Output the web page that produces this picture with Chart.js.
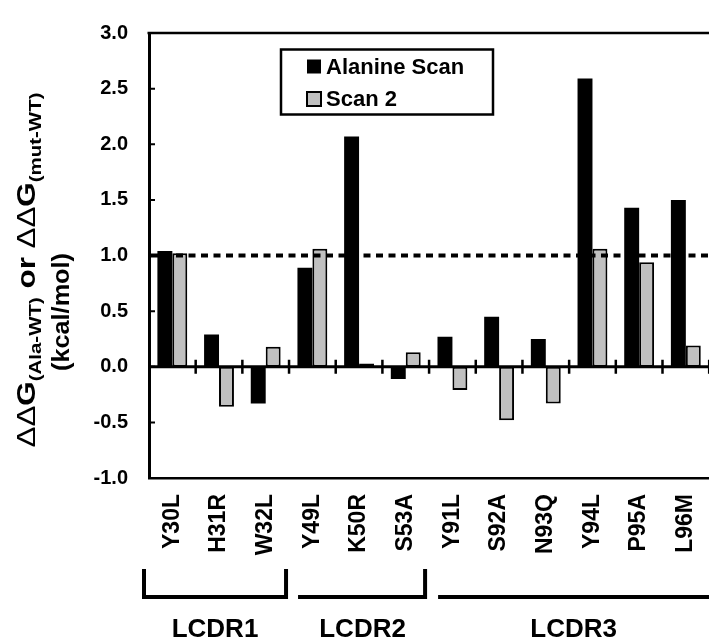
<!DOCTYPE html>
<html><head><meta charset="utf-8">
<script src="https://cdn.jsdelivr.net/npm/chart.js@4/dist/chart.umd.min.js"></script>
<style>html,body{margin:0;padding:0;background:#fff;overflow:hidden;width:709px;height:641px}canvas{display:block}</style>
</head><body>
<canvas id="c" width="730" height="641"></canvas>
<script>
// ---- data ----
const categories = ['Y30L','H31R','W32L','Y49L','K50R','S53A','Y91L','S92A','N93Q','Y94L','P95A','L96M'];
const alanineScan = [1.04, 0.29, -0.33, 0.89, 2.07, -0.11, 0.27, 0.45, 0.25, 2.59, 1.43, 1.50];
const scan2 = [1.02, -0.36, 0.18, 1.06, 0.03, 0.13, -0.21, -0.48, -0.33, 1.06, 0.94, 0.19];
const seriesNames = ['Alanine Scan', 'Scan 2'];
const yTicks = [-1.0, -0.5, 0.0, 0.5, 1.0, 1.5, 2.0, 2.5, 3.0];
const thresholdValue = 1.0;
const groupLabels = ['LCDR1', 'LCDR2', 'LCDR3'];
const groupFirst = [0, 3, 6];
const groupLast = [2, 5, 11];

// ---- styles ----
const FONT = '"Liberation Sans", Arial, Helvetica, sans-serif';
const groupLeftEnd = [true, false, false];
const groupRightEnd = [true, true, false];
const groupInsetL = [-7, 9, 9];
const groupInsetR = [-1, -2, 0];

function drawRich(ctx, segs, baseX, centerY, targetLen) {
  let total = 0;
  const widths = segs.map(s => {
    ctx.font = (s.bold ? 'bold ' : '') + s.size + 'px ' + FONT;
    const w = ctx.measureText(s.t).width; total += w; return w;
  });
  ctx.save();
  ctx.translate(baseX, centerY);
  ctx.rotate(-Math.PI / 2);
  ctx.scale(targetLen / total, 1);
  ctx.fillStyle = '#000';
  ctx.textBaseline = 'alphabetic';
  ctx.textAlign = 'left';
  let pos = -total / 2;
  segs.forEach((s, i) => {
    ctx.font = (s.bold ? 'bold ' : '') + s.size + 'px ' + FONT;
    ctx.fillText(s.t, pos, s.sub ? 6 : 0);
    pos += widths[i];
  });
  ctx.restore();
}

const decor = {
  id: 'decor',
  afterDatasetsDraw(chart) {
    const {ctx, chartArea: a, scales: {x, y}} = chart;
    ctx.save();
    ctx.strokeStyle = '#000';
    // threshold dashed line
    const yt = y.getPixelForValue(thresholdValue);
    ctx.setLineDash([7, 5.5]);
    ctx.lineWidth = 4;
    ctx.beginPath(); ctx.moveTo(a.left + 2, yt); ctx.lineTo(a.right, yt); ctx.stroke();
    ctx.setLineDash([]);
    // zero line
    const y0 = y.getPixelForValue(0);
    ctx.lineWidth = 3;
    ctx.beginPath(); ctx.moveTo(a.left, y0); ctx.lineTo(a.right, y0); ctx.stroke();
    // category boundary ticks crossing zero line
    const w = x.getPixelForValue(1) - x.getPixelForValue(0);
    ctx.lineWidth = 2.5;
    ctx.beginPath();
    for (let i = 1; i <= categories.length; i++) {
      const bx = x.getPixelForValue(i) - w / 2;
      ctx.moveTo(bx, y0 - 7); ctx.lineTo(bx, y0 + 7);
    }
    ctx.stroke();
    // inward y tick marks
    ctx.lineWidth = 2;
    ctx.beginPath();
    yTicks.forEach(v => {
      const py = y.getPixelForValue(v);
      ctx.moveTo(a.left, py); ctx.lineTo(a.left + 6, py);
    });
    ctx.stroke();
    // top frame line
    ctx.lineWidth = 2.5;
    ctx.beginPath(); ctx.moveTo(a.left - 1.5, a.top); ctx.lineTo(a.right, a.top); ctx.stroke();
    ctx.restore();
  },
  afterDraw(chart) {
    const {ctx, chartArea: a, scales: {x}} = chart;
    ctx.save();
    // legend
    const lx = a.left + 132, ly = a.top + 16.5, lw = 212, lh = 65;
    ctx.fillStyle = '#fff';
    ctx.fillRect(lx, ly, lw, lh);
    ctx.lineWidth = 2.5; ctx.strokeStyle = '#000';
    ctx.strokeRect(lx, ly, lw, lh);
    chart.data.datasets.forEach((ds, i) => {
      const sy = ly + 10 + i * 32.5;
      ctx.fillStyle = ds.backgroundColor;
      ctx.fillRect(lx + 26, sy, 14, 14);
      if (ds.borderWidth) { ctx.lineWidth = 2; ctx.strokeStyle = '#000'; ctx.strokeRect(lx + 26, sy, 14, 14); }
      ctx.fillStyle = '#000';
      ctx.font = 'bold 22px ' + FONT;
      ctx.textBaseline = 'middle'; ctx.textAlign = 'left';
      ctx.fillText(ds.label, lx + 45, sy + 8);
    });
    // y axis title
    drawRich(ctx, [
      {t: 'ΔΔ', size: 26, bold: false},
      {t: 'G', size: 26, bold: true},
      {t: '(Ala-WT)', size: 17, bold: true, sub: true},
      {t: ' or ', size: 26, bold: true},
      {t: 'ΔΔ', size: 26, bold: false},
      {t: 'G', size: 26, bold: true},
      {t: '(mut-WT)', size: 17, bold: true, sub: true}
    ], 35, 270, 355);
    drawRich(ctx, [{t: '(kcal/mol)', size: 23, bold: true}], 69, 312, 118);
    // group brackets
    const w = x.getPixelForValue(1) - x.getPixelForValue(0);
    const yTop = a.bottom + 91, yLine = a.bottom + 119;
    ctx.strokeStyle = '#000'; ctx.lineWidth = 4; ctx.lineCap = 'butt';
    groupLabels.forEach((g, i) => {
      const xl = x.getPixelForValue(groupFirst[i]) - w / 2 + groupInsetL[i];
      const xr = x.getPixelForValue(groupLast[i]) + w / 2 + groupInsetR[i];
      ctx.beginPath();
      if (groupLeftEnd[i]) { ctx.moveTo(xl + 2, yTop); ctx.lineTo(xl + 2, yLine); }
      ctx.moveTo(xl, yLine); ctx.lineTo(xr, yLine);
      if (groupRightEnd[i]) { ctx.moveTo(xr - 2, yLine); ctx.lineTo(xr - 2, yTop); }
      ctx.stroke();
      ctx.fillStyle = '#000';
      ctx.font = 'bold 26px ' + FONT;
      ctx.textAlign = 'center'; ctx.textBaseline = 'alphabetic';
      ctx.fillText(g, (xl + xr) / 2, a.bottom + 159);
    });
    ctx.restore();
  }
};

new Chart(document.getElementById('c'), {
  type: 'bar',
  data: {
    labels: categories,
    datasets: [
      {label: seriesNames[0], data: alanineScan, backgroundColor: '#000000', borderWidth: 0,
       categoryPercentage: 0.64, barPercentage: 1.0},
      {label: seriesNames[1], data: scan2, backgroundColor: '#c0c0c0', borderColor: '#000000', borderWidth: 2,
       borderSkipped: false, categoryPercentage: 0.64, barPercentage: 1.0}
    ]
  },
  options: {
    responsive: false,
    animation: false,
    devicePixelRatio: 1,
    layout: {padding: {top: 23, right: 13.5, left: 0, bottom: 0}},
    plugins: {legend: {display: false}, tooltip: {enabled: false}},
    scales: {
      x: {
        position: 'bottom',
        grid: {display: false, drawTicks: false},
        border: {display: true, color: '#000', width: 2.5},
        ticks: {minRotation: 90, maxRotation: 90, autoSkip: false, padding: 16, color: '#000',
                font: {family: FONT, size: 23, weight: 'bold'}},
        afterFit: s => { s.height = 641 - 478; }
      },
      y: {
        min: -1, max: 3,
        afterBuildTicks: s => { s.ticks = yTicks.map(v => ({value: v})); },
        grid: {display: false, drawTicks: false},
        border: {display: true, color: '#000', width: 3},
        ticks: {padding: 21, color: '#000', font: {family: FONT, size: 20, weight: 'bold'},
                callback: v => Number(v).toFixed(1)},
        afterFit: s => { s.width = 149; }
      }
    }
  },
  plugins: [decor]
});
</script>
</body></html>
